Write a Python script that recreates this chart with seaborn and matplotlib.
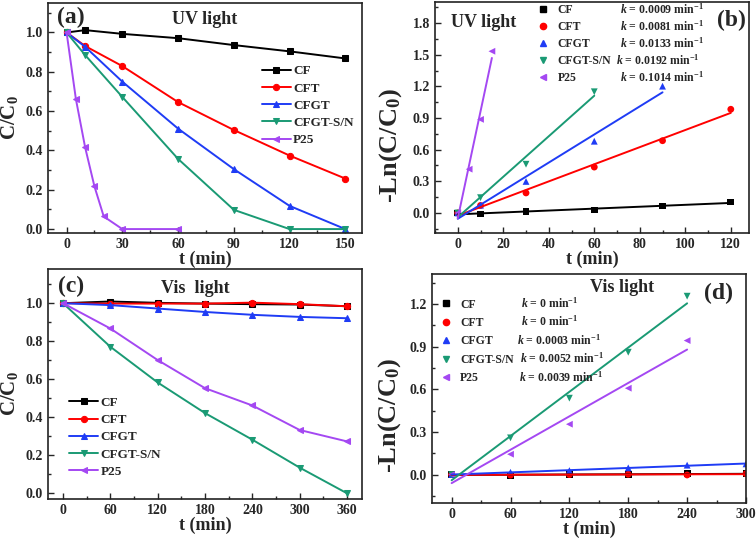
import matplotlib
matplotlib.use("Agg")
import matplotlib.pyplot as plt
from matplotlib.lines import Line2D
from matplotlib.transforms import blended_transform_factory, IdentityTransform
from matplotlib.ticker import MultipleLocator, AutoMinorLocator, FormatStrFormatter
import seaborn as sns

sns.set_style("ticks")
plt.rcParams['font.family'] = ['Liberation Serif', 'DejaVu Serif']
plt.rcParams['font.weight'] = 'bold'
plt.rcParams['axes.labelweight'] = 'bold'
plt.rcParams['mathtext.fontset'] = 'custom'
plt.rcParams['mathtext.rm'] = 'Liberation Serif:bold'
plt.rcParams['mathtext.bf'] = 'Liberation Serif:bold'
plt.rcParams['mathtext.it'] = 'Liberation Serif:bold:italic'

# ---------------------------------------------------------------------------
# data
# ---------------------------------------------------------------------------
samples = ['CF', 'CFT', 'CFGT', 'CFGT-S/N', 'P25']
colors = ['#000000', '#ff0000', '#1f3cf5', '#1a9a74', '#a448f2']
markers = ['s', 'o', '^', 'v', '<']

# (a) UV light, C/C0
t_uv = [0, 10, 30, 60, 90, 120, 150]
t_uv_p25 = [0, 5, 10, 15, 20, 30, 60]
uv_cf = [1.0, 1.012, 0.993, 0.971, 0.936, 0.904, 0.868]
uv_cft = [1.0, 0.931, 0.829, 0.646, 0.504, 0.374, 0.257]
uv_cfgt = [1.0, 0.927, 0.750, 0.511, 0.305, 0.118, 0.0]
uv_cfgtsn = [1.0, 0.885, 0.672, 0.357, 0.098, 0.0, 0.0]
uv_p25 = [1.0, 0.662, 0.415, 0.217, 0.064, 0.0, 0.0]

# (b) UV light, -ln(C/C0)
tk_cf = [0, 10, 30, 60, 90, 120]
tk_cft = [0, 10, 30, 60, 90, 120]
tk_cfgt = [0, 10, 30, 60, 90]
tk_cfgtsn = [0, 10, 30, 60]
tk_p25 = [0, 5, 10, 15]
ln_cf = [0.0, -0.010, 0.013, 0.028, 0.066, 0.104]
ln_cft = [0.0, 0.071, 0.190, 0.435, 0.685, 0.983]
ln_cfgt = [0.0, 0.074, 0.299, 0.680, 1.202]
ln_cfgtsn = [0.0, 0.145, 0.462, 1.149]
ln_p25 = [0.0, 0.415, 0.887, 1.533]
k_uv = ['0.0009', '0.0081', '0.0133', '0.0192', '0.1014']

# (c) Vis light, C/C0
t_vis = [0, 60, 120, 180, 240, 300, 360]
vis_cf = [1.0, 1.009, 1.002, 0.998, 0.995, 0.993, 0.984]
vis_cft = [1.0, 0.998, 0.998, 0.998, 1.003, 0.995, 0.984]
vis_cfgt = [1.0, 0.990, 0.972, 0.954, 0.939, 0.928, 0.921]
vis_cfgtsn = [1.0, 0.771, 0.583, 0.422, 0.282, 0.135, 0.0]
vis_p25 = [1.0, 0.867, 0.701, 0.553, 0.462, 0.333, 0.273]

# (d) Vis light, -ln(C/C0)
tv_all = [0, 60, 120, 180, 240, 300]
tv_short = [0, 60, 120, 180, 240]
lnv_cf = [0.0, -0.005, 0.0, 0.002, 0.005, 0.005]
lnv_cft = [0.0, -0.004, 0.0, 0.002, -0.003, 0.006]
lnv_cfgt = [0.0, 0.016, 0.028, 0.047, 0.066, 0.075]
lnv_cfgtsn = [0.0, 0.258, 0.537, 0.860, 1.254]
lnv_p25 = [0.0, 0.143, 0.354, 0.607, 0.942]
k_vis = ['0', '0', '0.0003', '0.0052', '0.0039']

# ---------------------------------------------------------------------------
W, H = 756, 542
fig = plt.figure(figsize=(W / 100, H / 100), dpi=100)


def px_axes(left, top, right, bottom):
    return fig.add_axes([left / W, 1 - bottom / H, (right - left) / W, (bottom - top) / H])


def style_axes(ax, xmaj, ymaj, yfmt='%.1f'):
    ax.xaxis.set_major_locator(MultipleLocator(xmaj))
    ax.yaxis.set_major_locator(MultipleLocator(ymaj))
    ax.xaxis.set_minor_locator(AutoMinorLocator(2))
    ax.yaxis.set_minor_locator(AutoMinorLocator(2))
    ax.yaxis.set_major_formatter(FormatStrFormatter(yfmt))
    ax.tick_params(which='both', direction='in', labelsize=10, width=1.0)
    ax.tick_params(which='major', length=4)
    ax.tick_params(which='minor', length=2.5)
    for lab in ax.get_xticklabels() + ax.get_yticklabels():
        lab.set_fontweight('bold')
    for sp in ax.spines.values():
        sp.set_visible(True)
        sp.set_linewidth(1.2)
        sp.set_color('#222222')
    ax.set_xlabel('t (min)', fontsize=13, labelpad=0)


ax_a = px_axes(48, 3, 362, 233)
ax_b = px_axes(435, 2, 749, 233)
ax_c = px_axes(48, 269, 362, 499)
ax_d = px_axes(432, 274, 746, 503)

# ---------------- (a) ----------------
a_series = [(t_uv, uv_cf), (t_uv, uv_cft), (t_uv, uv_cfgt), (t_uv, uv_cfgtsn), (t_uv_p25, uv_p25)]
for (x, y), name, c, m in zip(a_series, samples, colors, markers):
    sns.lineplot(x=x, y=y, ax=ax_a, color=c, marker=m, markersize=4.5,
                 markeredgecolor=c, linewidth=1.4, label=name)
ax_a.set_xlim(-10, 159)
ax_a.set_ylim(-0.02, 1.15)
style_axes(ax_a, 30, 0.2)
ax_a.set_ylabel('C/C$_0$', fontsize=15)
ax_a.yaxis.set_label_coords(-0.09, 0.5)
ax_a.legend(loc='upper left', bbox_to_anchor=(0.68, 0.73), frameon=False,
            fontsize=9.5, handlelength=2.2, handletextpad=0.2, labelspacing=0.38,
            borderpad=0, borderaxespad=0)
ax_a.text(0.073, 0.935, '(a)', transform=ax_a.transAxes, fontsize=17,
          fontweight='bold', ha='center', va='center')
ax_a.text(0.5, 0.93, 'UV light', transform=ax_a.transAxes, fontsize=13,
          fontweight='bold', ha='center', va='center')

# ---------------- (b) ----------------
b_series = [(tk_cf, ln_cf), (tk_cft, ln_cft), (tk_cfgt, ln_cfgt),
            (tk_cfgtsn, ln_cfgtsn), (tk_p25, ln_p25)]
for (x, y), c, m in zip(b_series, colors, markers):
    sns.regplot(x=x, y=y, ax=ax_b, ci=None, color=c, marker=m,
                scatter_kws={'s': 24, 'edgecolor': 'none', 'alpha': 1},
                line_kws={'linewidth': 1.4})
ax_b.set_xlim(-10, 128)
ax_b.set_ylim(-0.19, 2.0)
style_axes(ax_b, 20, 0.3)
ax_b.set_ylabel('-Ln(C/C$_0$)', fontsize=19)
ax_b.yaxis.set_label_coords(-0.1, 0.38)


def marker_legend(ax, anchor, spacing):
    handles = [Line2D([], [], linestyle='none', marker=m, color=c, markersize=4.5)
               for c, m in zip(colors, markers)]
    return ax.legend(handles, samples, loc='upper left', bbox_to_anchor=anchor,
                     frameon=False, fontsize=8.5, handlelength=0.8, handletextpad=0.8,
                     labelspacing=spacing, borderpad=0, borderaxespad=0)


def k_texts(ax, leg, kvals, xs):
    # put the rate constants on the same baselines as the legend rows
    fig.canvas.draw()
    tr = blended_transform_factory(ax.transAxes, IdentityTransform())
    for txt, k, xk in zip(leg.get_texts(), kvals, xs):
        y_disp = txt.get_transform().transform(txt.get_position())[1]
        ax.text(xk, y_disp, r'$k$ = %s min$^{-1}$' % k, transform=tr,
                fontsize=8.5, ha='left', va='baseline')


leg_b = marker_legend(ax_b, (0.33, 0.99), 0.42)
ax_b.text(0.943, 0.922, '(b)', transform=ax_b.transAxes, fontsize=17,
          fontweight='bold', ha='center', va='center')
ax_b.text(0.156, 0.913, 'UV light', transform=ax_b.transAxes, fontsize=13,
          fontweight='bold', ha='center', va='center')

# ---------------- (c) ----------------
c_series = [vis_cf, vis_cft, vis_cfgt, vis_cfgtsn, vis_p25]
for y, name, c, m in zip(c_series, samples, colors, markers):
    sns.lineplot(x=t_vis, y=y, ax=ax_c, color=c, marker=m, markersize=4.5,
                 markeredgecolor=c, linewidth=1.4, label=name)
ax_c.set_xlim(-19, 379)
ax_c.set_ylim(-0.03, 1.18)
style_axes(ax_c, 60, 0.2)
ax_c.set_ylabel('C/C$_0$', fontsize=15)
ax_c.yaxis.set_label_coords(-0.09, 0.46)
ax_c.legend(loc='upper left', bbox_to_anchor=(0.067, 0.445), frameon=False,
            fontsize=9.5, handlelength=2.2, handletextpad=0.2, labelspacing=0.38,
            borderpad=0, borderaxespad=0)
ax_c.text(0.073, 0.926, '(c)', transform=ax_c.transAxes, fontsize=17,
          fontweight='bold', ha='center', va='center')
ax_c.text(0.468, 0.917, 'Vis  light', transform=ax_c.transAxes, fontsize=13,
          fontweight='bold', ha='center', va='center')

# ---------------- (d) ----------------
d_series = [(tv_all, lnv_cf), (tv_all, lnv_cft), (tv_all, lnv_cfgt),
            (tv_short, lnv_cfgtsn), (tv_short, lnv_p25)]
for (x, y), c, m in zip(d_series, colors, markers):
    sns.regplot(x=x, y=y, ax=ax_d, ci=None, color=c, marker=m,
                scatter_kws={'s': 24, 'edgecolor': 'none', 'alpha': 1},
                line_kws={'linewidth': 1.4})
ax_d.set_xlim(-20, 300)
ax_d.set_ylim(-0.2, 1.41)
style_axes(ax_d, 60, 0.3)
ax_d.set_ylabel('-Ln(C/C$_0$)', fontsize=19)
ax_d.yaxis.set_label_coords(-0.092, 0.38)
leg_d = marker_legend(ax_d, (0.03, 0.893), 0.55)
ax_d.text(0.911, 0.917, '(d)', transform=ax_d.transAxes, fontsize=17,
          fontweight='bold', ha='center', va='center')
ax_d.text(0.605, 0.939, 'Vis light', transform=ax_d.transAxes, fontsize=13,
          fontweight='bold', ha='center', va='center')

k_texts(ax_b, leg_b, k_uv, [0.59, 0.59, 0.59, 0.576, 0.59])
k_texts(ax_d, leg_d, k_vis, [0.283, 0.283, 0.27, 0.28, 0.277])

fig.savefig('out.png', dpi=100)
